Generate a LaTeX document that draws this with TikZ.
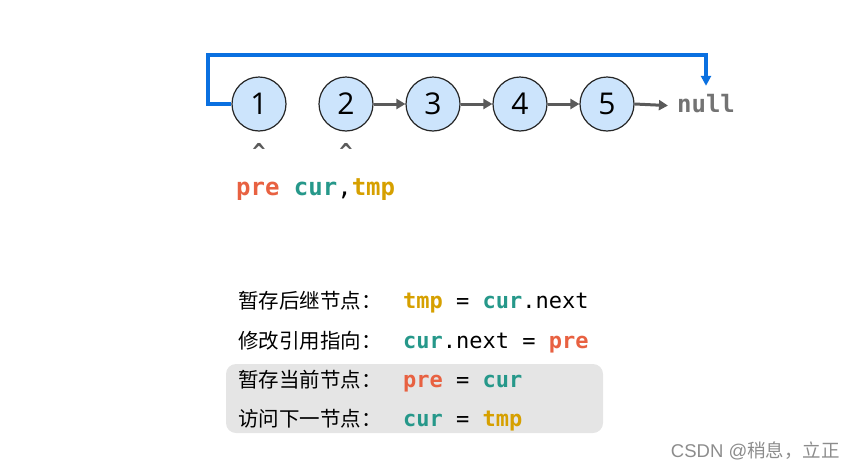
\documentclass[tikz,border=0pt]{standalone}
\usepackage{fontspec}
\setmonofont{DejaVu Sans Mono}
\setsansfont{Open Sans}
\newfontfamily\cjk{Noto Sans CJK SC}
\newfontfamily\arialfont{Liberation Sans}
\usetikzlibrary{arrows.meta}
\definecolor{cpre}{RGB}{232,97,65}
\definecolor{ccur}{RGB}{38,152,138}
\definecolor{ctmp}{RGB}{214,160,0}
\definecolor{cblue}{RGB}{10,112,224}
\definecolor{cfill}{RGB}{204,228,252}
\definecolor{cgray}{RGB}{90,90,90}
\definecolor{cbox}{RGB}{229,229,229}
\newcommand{\kpre}{\textcolor{cpre}{\textbf{pre}}}
\newcommand{\kcur}{\textcolor{ccur}{\textbf{cur}}}
\newcommand{\ktmp}{\textcolor{ctmp}{\textbf{tmp}}}
\begin{document}
\begin{tikzpicture}[x=1pt,y=-1pt,
  lnode/.style={circle,draw=black!85,line width=1.2pt,fill=cfill,minimum size=54pt,inner sep=0pt,font=\sffamily\fontsize{30}{30}\selectfont},
  link/.style={draw=cgray,line width=3pt,-{Triangle[length=9pt,width=10pt]}},
  cn/.style={anchor=base west,inner sep=0pt,font=\cjk\fontsize{20.5}{22}\selectfont},
  code/.style={anchor=base west,inner sep=0pt,font=\ttfamily\fontsize{22}{24}\selectfont},
  caret/.style={font=\ttfamily\bfseries\fontsize{22}{22}\selectfont,text=cgray,inner sep=0pt}]
\useasboundingbox (0,0) rectangle (857,469);
\fill[cbox,rounded corners=10pt] (226,364) rectangle (603,433);
\node[lnode] (n1) at (259,104) {1};
\node[lnode] (n2) at (346,104) {2};
\node[lnode] (n3) at (433,104) {3};
\node[lnode] (n4) at (520,104) {4};
\node[lnode] (n5) at (607,104) {5};
\node[inner sep=0pt,text height=12pt,text depth=0pt,font=\ttfamily\bfseries\fontsize{24}{24}\selectfont,text=black!55] (null) at (706,106) {null};
\draw[link] (n2) -- (n3);
\draw[link] (n3) -- (n4);
\draw[link] (n4) -- (n5);
\draw[link,shorten >=9pt] (n5.east) -- (null.west);
\coordinate (top) at (208,55);
\draw[cblue,line width=3.2pt,-{Triangle[length=10pt,width=10pt]}] (n1.west) -| (top) -| ([yshift=14pt]null.north);
\node[caret] (c1) at (259,151) {\^{}};
\node[caret] (c2) at (346,151) {\^{}};
\node[code,font=\ttfamily\fontsize{24}{26}\selectfont] (ptr) at (236,195) {\kpre{} \kcur,\ktmp};
\node[cn] (l1) at (238,308) {暂存后继节点：};
\node[code] (r1) at (403,308) {\ktmp{} = \kcur.next};
\node[cn] (l2) at (238,348) {修改引用指向：};
\node[code] (r2) at (403,348) {\kcur.next = \kpre};
\node[cn] (l3) at (238,387) {暂存当前节点：};
\node[code] (r3) at (403,387) {\kpre{} = \kcur};
\node[cn] (l4) at (238,426) {访问下一节点：};
\node[code] (r4) at (403,426) {\kcur{} = \ktmp};
\node[anchor=base east,inner sep=0pt,text=black!45,font=\cjk\fontsize{18.5}{19}\selectfont] (wm) at (840,457) {{\arialfont CSDN @}稍息，立正};
\end{tikzpicture}
\end{document}
